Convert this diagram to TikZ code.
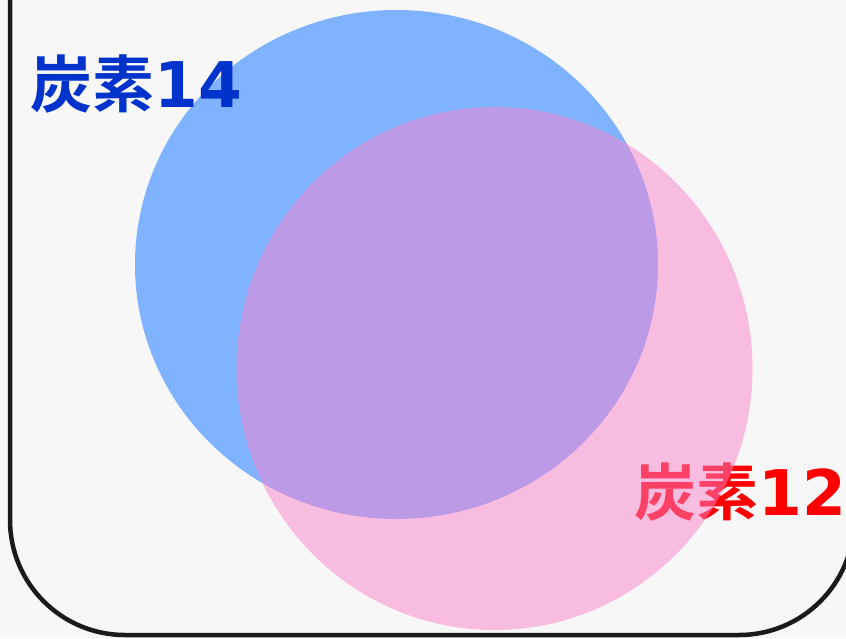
\documentclass[tikz,border=0pt]{standalone}
\usepackage{fontspec}
\newfontfamily\cjkbold{Noto Sans CJK JP Bold}
\newfontfamily\digbold{DejaVu Sans Bold}
\definecolor{bgc}{HTML}{F7F7F7}
\definecolor{bluec}{HTML}{80B3FF}
\definecolor{pinkc}{HTML}{FB82CC}
\definecolor{labblue}{HTML}{0033CC}
\definecolor{labred}{HTML}{FF0000}
\definecolor{framec}{HTML}{1A1A1A}
\begin{document}
\begin{tikzpicture}[x=1pt,y=-1pt,
  lab/.style={font=\cjkbold\fontsize{62}{62}\selectfont, inner sep=0pt, anchor=base west}]
\useasboundingbox (0,0) rectangle (846,638);
\clip (0,0) rectangle (846,638);
\fill[bgc] (0,0) rectangle (846,638);
\draw[framec, line width=4.5pt, rounded corners=115pt] (10,-200) -- (10,635) -- (854,635) -- (854,-200);
\fill[bluec] (396.5,264.5) ellipse [x radius=261.5, y radius=254.5];
\node[lab, text=labblue] (c14) at (30,107) {炭素{\digbold\fontsize{63}{63}\selectfont 14}};
\node[lab, text=labred] (c12) at (634,515) {炭素{\digbold\fontsize{63}{63}\selectfont 12}};
\fill[pinkc, fill opacity=0.5] (494.5,368.5) ellipse [x radius=258, y radius=261.5];
\end{tikzpicture}
\end{document}
